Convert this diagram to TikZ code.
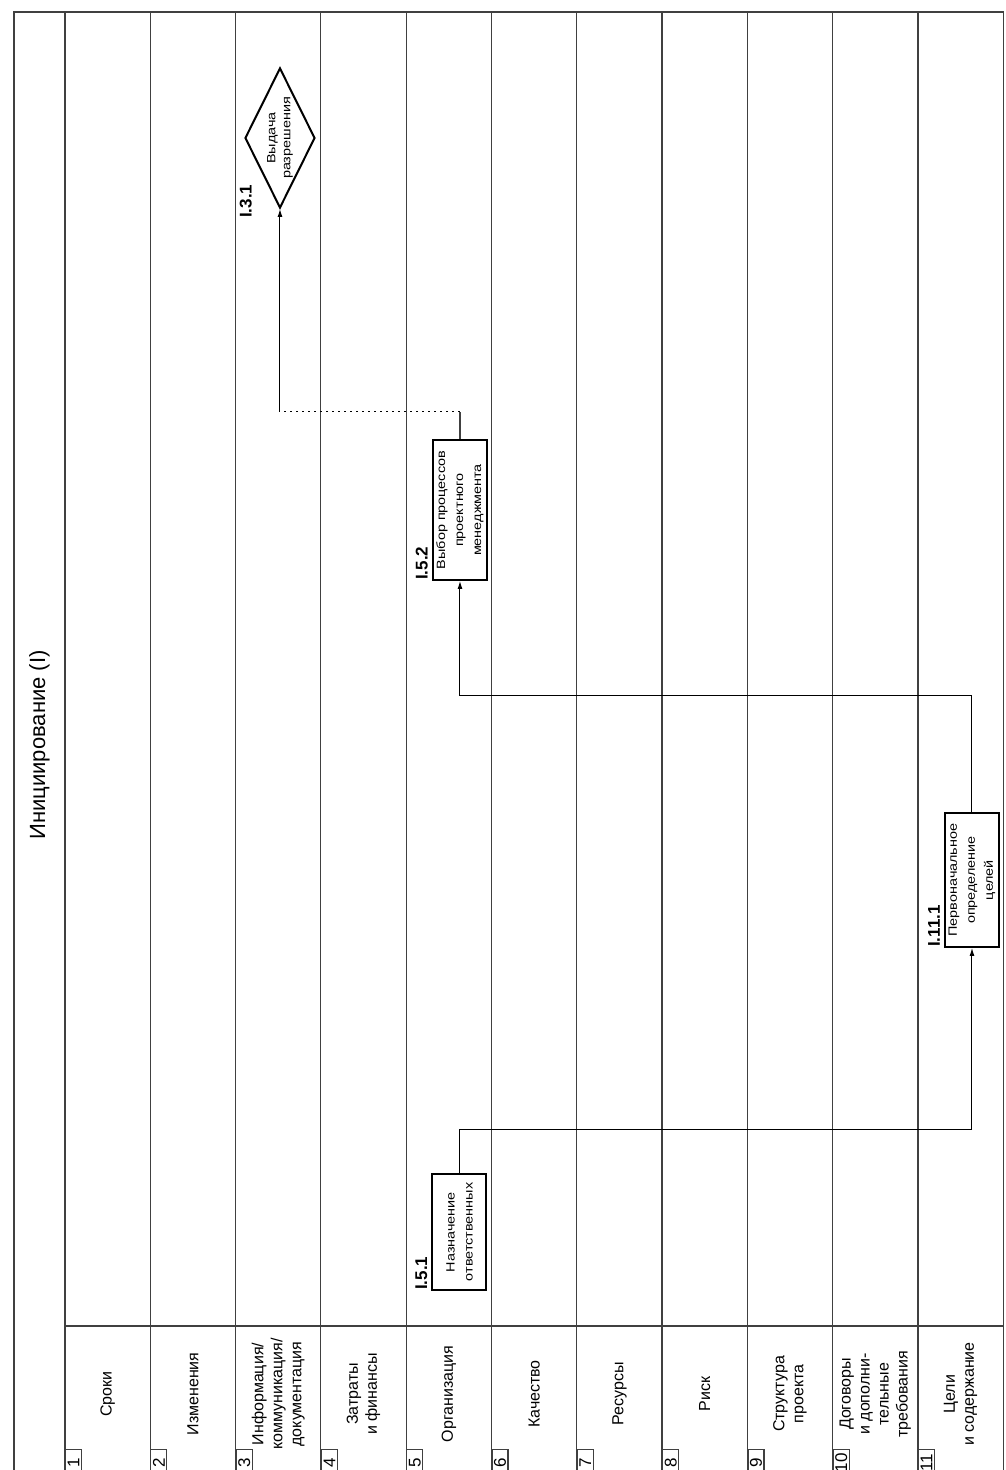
\documentclass[tikz,border=0pt]{standalone}
\usepackage{fontspec}
\setmainfont{Liberation Sans}
\newfontfamily\boxfont[FakeStretch=1.2]{Liberation Sans}
\usetikzlibrary{shapes,arrows.meta,positioning,calc}

\begin{document}
\begin{tikzpicture}[
    x=1pt, y=1pt,
    rotate=90, transform shape,
    lane_line/.style={draw=black!75, line width=1.2pt},
    lane_head/.style={align=center, inner sep=0pt, font=\fontsize{16}{19}\selectfont},
    lane_no/.style={
      rectangle, draw=black!75, line width=1.2pt,
      minimum width=26pt, minimum height=16pt, inner sep=1pt,
      font=\fontsize{17}{17}\selectfont
    },
    process/.style={
      rectangle, draw, line width=2pt,
      minimum height=54pt, align=center, inner sep=2pt,
      font=\boxfont\fontsize{12}{18}\selectfont
    },
    decision/.style={
      diamond, draw, line width=2pt, aspect=2,
      minimum width=140pt, minimum height=70pt, align=center, inner sep=0pt,
      font=\boxfont\fontsize{12}{15}\selectfont
    },
    step_id/.style={anchor=south west, inner sep=1pt, yshift=3pt, font=\bfseries\fontsize{17}{17}\selectfont},
    flow/.style={draw, line width=1pt, -{Latex[length=8pt,width=5pt]}},
    dots/.style={draw, line width=1pt, dash pattern=on 1.5pt off 4.5pt}
  ]
  \useasboundingbox (0,0) rectangle (1470,1005);

  % frame, title row and lanes
  \draw[lane_line] (-5,1.5) rectangle (1458,991);
  \draw[lane_line] (-5,940) -- (1458,940);
  \draw[lane_line] (144,1.5) -- (144,940);
  \foreach \k in {1,...,10}
    \draw[lane_line] (-5,{940-85.3*\k}) -- (1458,{940-85.3*\k});

  \node[font=\fontsize{22}{22}\selectfont] (title) at (725,965.5) {Инициирование (I)};

  % lane headers
  \foreach \k/\txt in {1/Сроки, 2/Изменения, 3/{Информация/\\коммуникация/\\документация},
      4/{Затраты\\и финансы}, 5/Организация, 6/Качество, 7/Ресурсы, 8/Риск,
      9/{Структура\\проекта}, 10/{Договоры\\и дополни-\\тельные\\требования},
      11/{Цели\\и содержание}} {
    \node[lane_head] (head\k) at (76,{940-85.3*(\k-0.5)}) {\txt};
    \node[lane_no, anchor=north east] (no\k) at (21,{940-85.3*(\k-1)}) {\k};
  }

  % steps
  \node[process, minimum width=116pt] (p51) at (238,545.5) {Назначение\\ответственных};
  \node[process, minimum width=134pt] (p111) at (590,33) {Первоначальное\\определение\\целей};
  \node[process, minimum width=140pt] (p52) at (960,545) {Выбор процессов\\проектного\\менеджмента};
  \node[decision] (d31) at (1332,725) {Выдача\\разрешения};

  \node[step_id] (id51) at (p51.north west) {I.5.1};
  \node[step_id] (id111) at (p111.north west) {I.11.1};
  \node[step_id] (id52) at (p52.north west) {I.5.2};
  \node[step_id] (id31) at ($(d31.west)+(-10,24)$) {I.3.1};

  % connections
  \draw[flow] (p51.east) -- ++(43,0) |- (p111.west);
  \draw[flow] (p111.east) -- ++(116,0) |- (p52.west);
  \coordinate (up52) at ($(p52.east)+(27,0)$);
  \coordinate (up31) at (up52 |- d31.west);
  \draw[lane_line] (p52.east) -- (up52);
  \draw[dots] (up52) -- (up31);
  \draw[flow] (up31) -- (d31.west);
\end{tikzpicture}
\end{document}
